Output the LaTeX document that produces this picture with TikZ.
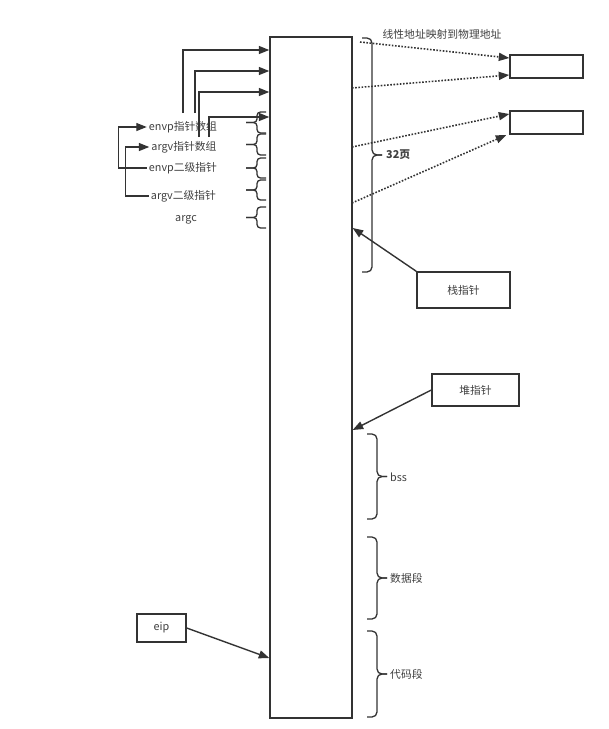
\documentclass[tikz,border=0pt]{standalone}
\usepackage{fontspec}
\setmainfont{Noto Sans CJK SC}
\usetikzlibrary{arrows.meta,calc}
\definecolor{ln}{HTML}{333333}
\definecolor{tx}{HTML}{404040}
\newcommand{\BrC}[6][]{%
  \draw[brc,#1] (#2,#5) -- (#3,#5) -- (#3,{(#5+#6)/2}) -- (#4,{(#5+#6)/2});
  \draw[brc,#1] (#2,#6) -- (#3,#6) -- (#3,{(#5+#6)/2}) -- (#4,{(#5+#6)/2});}
\begin{document}
\begin{tikzpicture}[x=1pt,y=-1pt,
  font=\fontsize{10.8}{13}\selectfont,
  box/.style={draw=ln, line width=1.4pt, inner sep=0pt, fill=white},
  lbl/.style={inner sep=2pt, text=tx},
  arr/.style={draw=ln, line width=1.4pt, -{Triangle[length=10.5pt,width=8pt]}},
  dotarr/.style={arr, dash pattern=on 1.6pt off 1.6pt, line width=1.6pt},
  brc/.style={draw=ln, line width=1.3pt, rounded corners=5pt}]
\useasboundingbox (0,0) rectangle (609,729);

% memory column
\node[box, minimum width=82pt, minimum height=681pt] (mem) at (311,377.5) {};

% physical page boxes
\node[box, minimum width=73pt, minimum height=23pt] (pg1) at (546.5,66.5) {};
\node[box, minimum width=73pt, minimum height=23pt] (pg2) at (546.5,122.5) {};
\node[lbl] (title) at (442,34) {线性地址映射到物理地址};

% pointer boxes
\node[box, minimum width=93pt, minimum height=36pt, text=tx] (sp) at (463.5,290) {栈指针};
\node[box, minimum width=87pt, minimum height=32pt, text=tx] (hp) at (475.5,390) {堆指针};
\node[box, minimum width=49pt, minimum height=28pt, text=tx] (eip) at (161.5,628) {eip};

% left labels
\node[lbl] (envp1) at (183,127) {envp指针数组};
\node[lbl] (argv1) at (184,147) {argv指针数组};
\node[lbl] (envp2) at (183,168) {envp二级指针};
\node[lbl] (argv2) at (183.5,196) {argv二级指针};
\node[lbl] (argc) at (186,220) {argc};

% right labels
\node[lbl, anchor=west, font=\fontsize{10.8}{13}\selectfont\bfseries] (pages) at (384,155) {32页};
\node[lbl, anchor=west] (bss) at (388,477) {bss};
\node[lbl, anchor=west] (data) at (388,578) {数据段};
\node[lbl, anchor=west] (code) at (388,674) {代码段};

% coordinates on the column
\coordinate (s1) at (183,113);
\coordinate (s2) at (195,113);
\coordinate (s3) at (199,137);
\coordinate (s4) at (209,137);
\coordinate (d1) at (360,42);
\coordinate (d2) at (352,88);
\coordinate (d3) at (352,147);
\coordinate (d4) at (352,203);

% pointer arrows from arrays into the column
\draw[arr] (s1) |- (mem.west |- 0,50);
\draw[arr] (s2) |- (mem.west |- 0,71);
\draw[arr] (s3) |- (mem.west |- 0,92);
\draw[arr] (s4) |- (mem.west |- 0,117);

% second level pointer loops
\draw[arr] (envp2.west) -- ++(-28,0) |- (envp1.west);
\draw[arr] (argv2.west) -- ++(-23,0) |- (argv1.west);

% dotted mapping arrows
\draw[dotarr] (d1) -- ([yshift=8.5pt]pg1.west);
\draw[dotarr] (d2) -- ([yshift=-8.5pt]pg1.west);
\draw[dotarr] (d3) -- ([yshift=8.5pt]pg2.west);
\draw[dotarr] (d4) -- ([xshift=-3pt,yshift=-12.5pt]pg2.west);

% pointer arrows
\draw[arr] (sp.north west) -- (mem.east |- 0,228);
\draw[arr] (hp.west) -- (mem.east |- 0,430);
\draw[arr] (eip.east) -- (mem.west |- 0,658);

% right braces
\BrC{362}{372}{382}{38}{272}
\BrC{367}{377}{387}{434}{519}
\BrC{367}{377}{387}{537}{619}
\BrC{367}{377}{387}{631}{717}

% left small braces
\BrC[rounded corners=3.5pt]{266}{257}{246}{112}{133}
\BrC[rounded corners=3.5pt]{266}{257}{246}{134}{155}
\BrC[rounded corners=3.5pt]{266}{257}{246}{158}{178}
\BrC[rounded corners=3.5pt]{266}{257}{246}{180}{200}
\BrC[rounded corners=3.5pt]{266}{257}{246}{207}{228}
\end{tikzpicture}
\end{document}
